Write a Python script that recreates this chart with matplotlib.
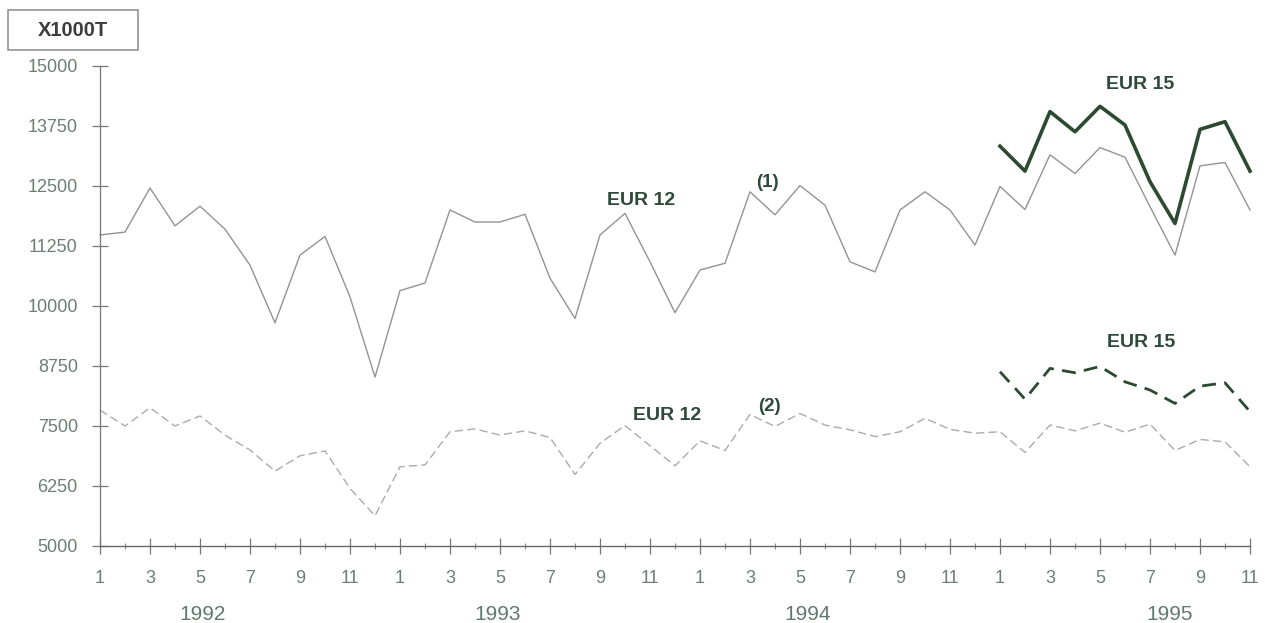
import numpy as np
import matplotlib.pyplot as plt
import matplotlib as mpl
from matplotlib.patches import Rectangle

# monthly values, Jan 1992 .. Nov 1995 (x1000 t)
months = [1, 2, 3, 4, 5, 6, 7, 8, 9, 10, 11, 12] * 3 + [1, 2, 3, 4, 5, 6, 7, 8, 9, 10, 11]
years = ['1992', '1993', '1994', '1995']
year_pos = [4.1, 15.9, 28.3, 42.8]

eur12_1 = [11480, 11540, 12460, 11670, 12080, 11600, 10850, 9650, 11060, 11450, 10190, 8520,
           10320, 10480, 12000, 11750, 11750, 11910, 10580, 9740, 11480, 11930, 10920, 9860,
           10750, 10890, 12380, 11900, 12510, 12100, 10920, 10710, 12000, 12380, 12000, 11270,
           12490, 12010, 13150, 12760, 13300, 13100, 12070, 11060, 12920, 12990, 12000]
eur12_2 = [7830, 7500, 7880, 7500, 7710, 7310, 7000, 6560, 6880, 6980, 6200, 5630,
           6650, 6690, 7380, 7440, 7310, 7400, 7260, 6490, 7140, 7510, 7090, 6670,
           7190, 6990, 7740, 7490, 7760, 7520, 7420, 7280, 7380, 7660, 7430, 7350,
           7380, 6950, 7520, 7400, 7560, 7370, 7540, 6990, 7220, 7170, 6650]
eur15_1 = [13330, 12810, 14050, 13630, 14160, 13770, 12590, 11720, 13680, 13840, 12810]
eur15_2 = [8630, 8060, 8700, 8610, 8740, 8420, 8250, 7970, 8330, 8400, 7800]

yticks = [5000, 6250, 7500, 8750, 10000, 11250, 12500, 13750, 15000]

mpl.rcParams['font.family'] = ['Liberation Sans', 'DejaVu Sans']
txt_col = '#5f7a6c'
lab_col = '#2e4a3a'
green = '#2b4a2f'

x = np.arange(len(eur12_1))
x15 = np.arange(36, 36 + len(eur15_1))

W, H = 1265, 623
fig = plt.figure(figsize=(W / 100, H / 100), dpi=100)
ax = fig.add_axes([100 / W, 77 / H, 1150 / W, 480 / H])

ax.plot(x, eur12_1, color='#939393', lw=1.0, clip_on=False)
ax.plot(x, eur12_2, color='#ababab', lw=1.0, ls=(0, (6, 3)), clip_on=False)
ax.plot(x15, eur15_1, color=green, lw=2.6, clip_on=False)
ax.plot(x15, eur15_2, color=green, lw=2.0, ls=(0, (5, 3)), clip_on=False)

ax.set_xlim(0, 46)
ax.set_ylim(5000, 15000)
for s in ['top', 'right']:
    ax.spines[s].set_visible(False)
ax.spines['left'].set_color('#777777')
ax.spines['bottom'].set_color('#666666')
ax.spines['left'].set_linewidth(0.9)
ax.spines['bottom'].set_linewidth(1.0)

ax.set_yticks(yticks)
ax.set_yticklabels([str(v) for v in yticks])
ax.set_xticks(x[::2])
ax.set_xticklabels([str(m) for m in months[::2]])
ax.set_xticks(x[1::2], minor=True)
ax.tick_params(axis='y', direction='inout', length=12, width=0.9, color='#777777',
               labelsize=13, labelcolor='#6b7f74', pad=10)
ax.tick_params(axis='x', which='major', direction='inout', length=11, width=0.9,
               color='#777777', labelsize=13, labelcolor='#6b7f74', pad=12)
ax.tick_params(axis='x', which='minor', direction='inout', length=4, width=0.8,
               color='#888888')

for yr, p in zip(years, year_pos):
    ax.text(p, -0.142, yr, transform=ax.get_xaxis_transform(), ha='center', va='center',
            fontsize=15, color=txt_col)

ax.text(21.65, 12020, 'EUR 12', fontsize=14, fontweight='bold', color=lab_col,
        ha='center', va='bottom')
ax.text(26.7, 12400, '(1)', fontsize=13.5, fontweight='bold', color=lab_col,
        ha='center', va='bottom')
ax.text(22.7, 7550, 'EUR 12', fontsize=14, fontweight='bold', color=lab_col,
        ha='center', va='bottom')
ax.text(26.76, 7720, '(2)', fontsize=13.5, fontweight='bold', color=lab_col,
        ha='center', va='bottom')
ax.text(41.6, 14440, 'EUR 15', fontsize=14, fontweight='bold', color=lab_col,
        ha='center', va='bottom')
ax.text(41.64, 9060, 'EUR 15', fontsize=14, fontweight='bold', color=lab_col,
        ha='center', va='bottom')

# unit box, top left
fig.patches.append(Rectangle((8 / W, 1 - 50 / H), 130 / W, 40 / H, transform=fig.transFigure,
                             facecolor='white', edgecolor='#8a8a8a', lw=1.1))
fig.text(73 / W, 1 - 30 / H, 'X1000T', fontsize=14.5, fontweight='bold', color='#3d3d3d',
         ha='center', va='center')

fig.savefig('out.png', dpi=100)
